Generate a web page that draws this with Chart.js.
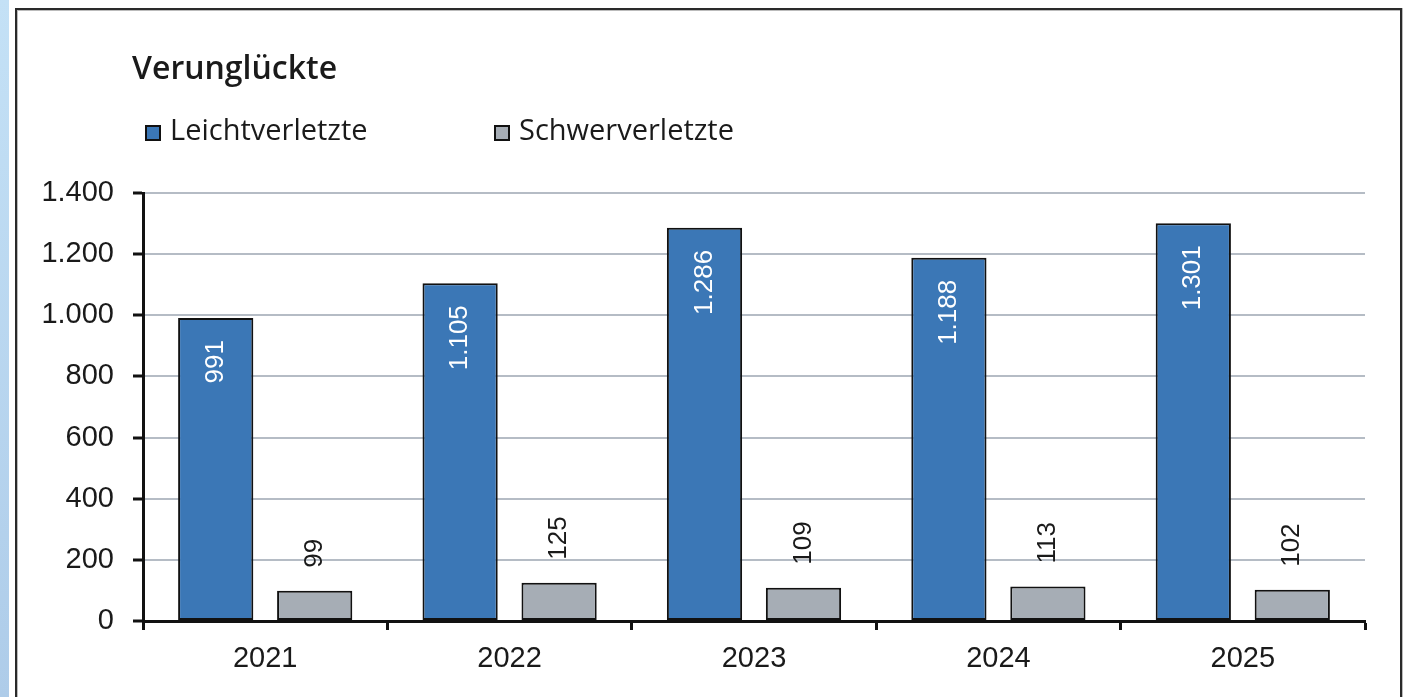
<!DOCTYPE html>
<html>
<head>
<meta charset="utf-8">
<script src="https://cdn.jsdelivr.net/npm/chart.js@4"></script>
<style>
    html, body { margin: 0; padding: 0; background: #fff; overflow: hidden; }
    #strip {
        position: absolute; left: 0; top: 0; width: 9px; height: 697px;
        background: linear-gradient(#c4e1f6, #aecce9);
    }
    #frame {
        position: absolute; left: 15px; top: 8px; width: 1383px; height: 720px;
        border: 2px solid #2a2a2a; border-bottom: none;
        box-shadow: inset 1px 1px 0 #bbb, 1px 0 0 #bbb;
    }
    #myChart { position: absolute; left: 0; top: 0; }
</style>
</head>
<body>
<div id="strip"></div>
<div id="frame"></div>
<canvas id="myChart" width="1406" height="697"></canvas>
<script>
const ctx = document.getElementById("myChart").getContext("2d");

const titleText = "Verunglückte";

const years = ["2021", "2022", "2023", "2024", "2025"];

const leicht = [991, 1105, 1286, 1188, 1301];
const schwer = [99, 125, 109, 113, 102];

const yTicks = [0, 200, 400, 600, 800, 1000, 1200, 1400];

// 1105 -> "1.105"
function fmt(v) {
    return String(v).replace(/\B(?=(\d{3})+(?!\d))/g, ".");
}

const labelFont = '26px "Liberation Sans", Arial, sans-serif';

// Title + legend drawn by hand so they sit where the original puts them
const headerPlugin = {
    id: "header",
    afterDraw(chart) {
        const c = chart.ctx;
        c.save();
        c.fillStyle = "#1a1a1a";
        c.font = '600 32px "Open Sans", sans-serif';
        c.textBaseline = "middle";
        c.textAlign = "left";
        c.fillText(titleText, 132, 70);

        const startX = [146, 495];
        c.font = '29px "Open Sans", sans-serif';
        chart.data.datasets.forEach((ds, i) => {
            const x = startX[i];
            c.fillStyle = ds.backgroundColor;
            c.fillRect(x, 126, 14, 14);
            c.lineWidth = 2;
            c.strokeStyle = "#111";
            c.strokeRect(x, 126, 14, 14);
            c.fillStyle = "#1a1a1a";
            c.fillText(ds.label, x + 24, 132);
        });
        c.restore();
    },
};

// rotated value labels: inside the tall bars, above the small ones
const valueLabels = {
    id: "valueLabels",
    afterDatasetsDraw(chart) {
        const c = chart.ctx;
        c.save();
        c.font = labelFont;
        c.textBaseline = "middle";
        chart.data.datasets.forEach((ds, i) => {
            const meta = chart.getDatasetMeta(i);
            meta.data.forEach((bar, j) => {
                const v = ds.data[j];
                c.save();
                if (i === 0) {
                    c.translate(bar.x, bar.y + 22);
                    c.rotate(-Math.PI / 2);
                    c.textAlign = "right";
                    c.fillStyle = "#ffffff";
                } else {
                    c.translate(bar.x, bar.y - 23);
                    c.rotate(-Math.PI / 2);
                    c.textAlign = "left";
                    c.fillStyle = "#1a1a1a";
                }
                c.fillText(fmt(v), 0, 0);
                c.restore();
            });
        });
        c.restore();
    },
};

const data = {
    labels: years,
    datasets: [
        {
            label: "Leichtverletzte",
            data: leicht,
            backgroundColor: "#3b77b6",
            borderColor: "#111",
            borderWidth: 2,
            borderSkipped: false,
        },
        {
            label: "Schwerverletzte",
            data: schwer,
            backgroundColor: "#a6adb5",
            borderColor: "#111",
            borderWidth: 2,
            borderSkipped: false,
        },
    ],
};

const config = {
    type: "bar",
    data: data,
    options: {
        responsive: false,
        animation: false,
        categoryPercentage: 0.81,
        barPercentage: 0.76,
        layout: {
            padding: { top: 193, right: 41, left: 0, bottom: 0 },
        },
        scales: {
            x: {
                grid: {
                    drawOnChartArea: false,
                    drawTicks: true,
                    tickLength: 9,
                    tickColor: "#111",
                    tickWidth: 3,
                },
                border: { color: "#111", width: 3 },
                ticks: {
                    color: "#1a1a1a",
                    padding: 12,
                    font: { family: '"Liberation Sans", Arial, sans-serif', size: 29 },
                },
                afterFit: (scale) => { scale.height = 76; },
            },
            y: {
                min: 0,
                max: 1400,
                afterBuildTicks: (scale) => {
                    scale.ticks = yTicks.map((v) => ({ value: v }));
                },
                grid: {
                    color: (c) => (c.tick && c.tick.value === 0 ? "#111" : "#b5bcc5"),
                    lineWidth: 2,
                    drawTicks: true,
                    tickLength: 10,
                    tickColor: "#111",
                    tickWidth: 3,
                },
                border: { color: "#111", width: 3 },
                ticks: {
                    color: "#1a1a1a",
                    padding: 19,
                    font: { family: '"Liberation Sans", Arial, sans-serif', size: 29 },
                    callback: (v) => fmt(v),
                },
                afterFit: (scale) => { scale.width = 143; },
            },
        },
        plugins: {
            legend: { display: false },
            title: { display: false },
            tooltip: { enabled: false },
        },
    },
    plugins: [valueLabels, headerPlugin],
};

const myChart = new Chart(ctx, config);
</script>
</body>
</html>
